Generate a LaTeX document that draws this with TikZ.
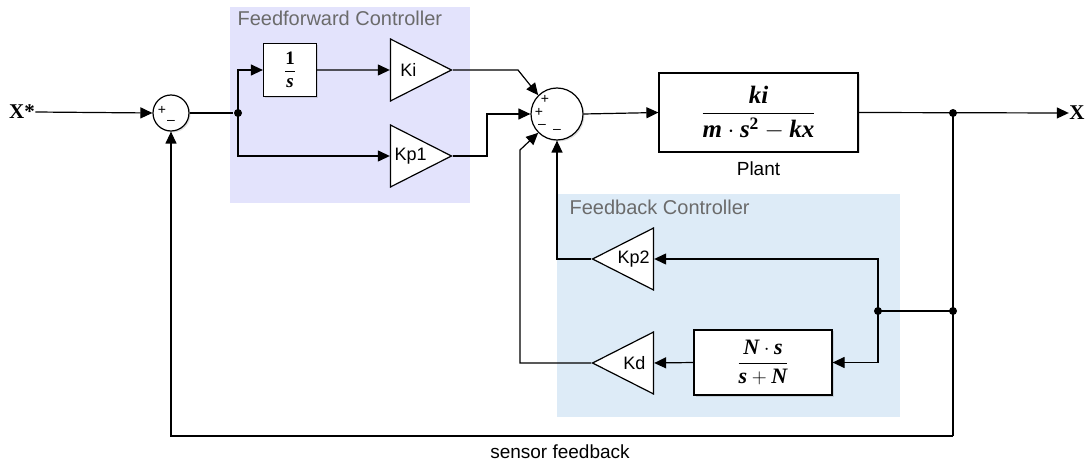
\documentclass[tikz,border=0pt]{standalone}
\usepackage{amsmath}
\usepackage{fontspec}
\setmainfont{Liberation Serif}
\setsansfont{Liberation Sans}
\usetikzlibrary{arrows.meta,positioning,shapes.geometric,shadows}

\definecolor{ffback}{HTML}{E3E3FC}
\definecolor{fbback}{HTML}{DDEBF7}
\definecolor{grouptext}{HTML}{6B6B6B}
\newcommand{\bi}[1]{\text{\bfseries\itshape #1}}

\begin{document}
\begin{tikzpicture}[
    x=1pt, y=-1pt,
    line width=1.2pt,
    block/.style={draw, fill=white, inner sep=0pt, font=\fontsize{21}{23}\selectfont, drop shadow={opacity=0.25, shadow xshift=1.5pt, shadow yshift=-1.5pt}},
    gain/.style={draw, fill=white, isosceles triangle, isosceles triangle stretches, inner sep=0pt, minimum width=62pt, minimum height=61pt, font=\sffamily\fontsize{18}{20}\selectfont},
    sumnode/.style={draw, fill=white, circle, inner sep=0pt, drop shadow={opacity=0.25, shadow xshift=1.5pt, shadow yshift=-1.5pt}},
    sign/.style={inner sep=0pt, font=\sffamily\fontsize{14}{14}\selectfont},
    group/.style={anchor=north west, inner sep=0pt, text=grouptext, font=\sffamily\fontsize{20}{22}\selectfont},
    caption/.style={inner sep=0pt, font=\sffamily\fontsize{19}{22}\selectfont},
    sig/.style={inner sep=0pt, font=\bfseries\fontsize{21}{23}\selectfont},
    dot/.style={circle, fill, inner sep=0pt, minimum size=8pt},
    arrow/.style={-{Triangle[length=12pt, width=11pt]}}
  ]
    \useasboundingbox (0,0) rectangle (1088,465);
    % controller groups
    \fill[ffback] (230,7) rectangle (470,203);
    \fill[fbback] (557,194) rectangle (900,417);
    \node[group] (fflabel) at (237,10) {Feedforward Controller};
    \node[group] (fblabel) at (569,199) {Feedback Controller};

    \node[sumnode, minimum size=36pt] (sum1) at (171,113) {};
    \node[sign] at (162,110) {+};
    \node[sign] at (171,122) {\textendash};
    \node[sumnode, minimum size=52pt] (sum2) at (557,114) {};
    \node[sign] at (545,99) {+};
    \node[sign] at (539,112) {+};
    \node[sign] at (542,126) {\textendash};
    \node[sign] at (557,131) {\textendash};

    \node[block, minimum width=53pt, minimum height=53pt, font=\fontsize{19}{21}\selectfont] (integ) at (290,70) {$\dfrac{\textbf{1}}{\bi{s}}$};
    \node[gain, anchor=apex] (ki) at (453,70) {Ki};
    \node[gain, anchor=apex] (kp1) at (453,156) {Kp1};
    \node[block, minimum width=199pt, minimum height=79pt, font=\fontsize{25}{27}\selectfont] (plant) at (758.5,112.5) {$\dfrac{\bi{ki}}{\bi{m}\cdot\bi{s}^{\textbf{2}}-\bi{kx}}$};
    \node[caption, below=9pt of plant] (plantlabel) {Plant};
    \node[gain, shape border rotate=180, anchor=apex] (kp2) at (591,259) {Kp2};
    \node[gain, shape border rotate=180, anchor=apex] (kd) at (591,363) {Kd};
    \node[block, minimum width=138pt, minimum height=65pt, font=\fontsize{22}{24}\selectfont] (deriv) at (763,362.5) {$\dfrac{\bi{N}\cdot\bi{s}}{\bi{s}+\bi{N}}$};

    \node[sig] (xstar) at (22,112) {X*};
    \node[sig] (xout) at (1077,113) {X};
    \node[caption] (sensorlabel) at (560,452) {sensor feedback};

    \node[dot] (split1) at (238,113) {};
    \node[dot] (split2) at (953,113) {};
    \node[dot] (split3) at (953,311) {};
    \node[dot] (split4) at (878,311) {};
    \coordinate (kink1) at (518,70);
    \coordinate (kink2) at (487,156);
    \coordinate (kink3) at (520,150);
    \coordinate (corner) at (953,436);

    \draw[arrow] (xstar.east) -- (sum1.west);
    \draw (sum1.east) -- (split1);
    \draw[arrow] (split1.center) |- (integ.west);
    \draw[arrow] (split1.center) |- (kp1.west);
    \draw[arrow] (integ.east) -- (ki.west);
    \draw[arrow] (ki.apex) -- (kink1) -- (sum2.135);
    \draw[arrow] (kp1.apex) -- (kink2) |- (sum2.west);
    \draw[arrow] (sum2.east) -- (plant.west);
    \draw[arrow] (plant.east) -- (xout.west);
    \draw (split2.center) -- (corner);
    \draw[arrow] (corner) -| (sum1.south);
    \draw (split3.center) -- (split4.center);
    \draw[arrow] (split4.center) |- (kp2.east);
    \draw[arrow] (split4.center) |- (deriv.east);
    \draw[arrow] (deriv.west) -- (kd.east);
    \draw[arrow] (kp2.apex) -| (sum2.south);
    \draw[arrow] (kd.apex) -| (kink3) -- (sum2.225);
  \end{tikzpicture}
\end{document}
